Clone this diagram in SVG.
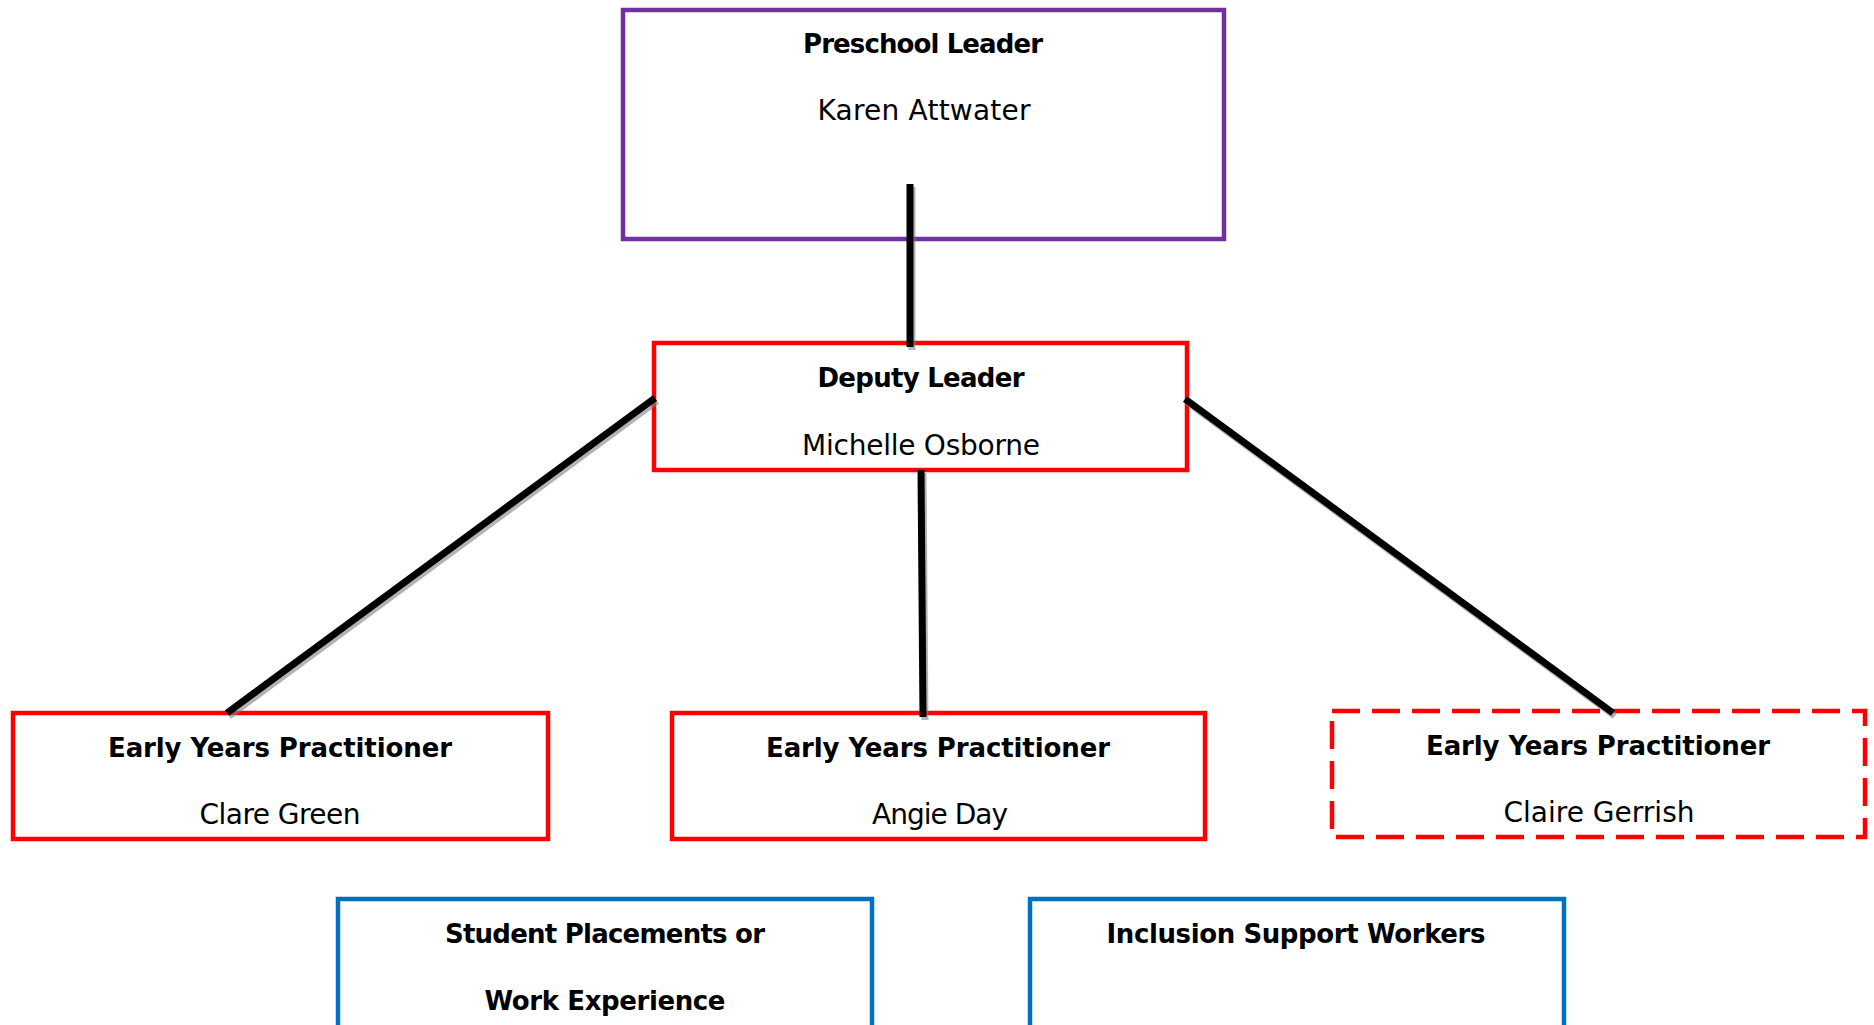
<svg xmlns="http://www.w3.org/2000/svg" width="1874" height="1025" viewBox="0 0 1874 1025">
  <style>
    .box { fill: #FFFFFF; stroke-width: 4.5; }
    .purple { stroke: #7030A0; }
    .red { stroke: #FF0000; }
    .dashed { stroke: #FF0000; stroke-dasharray: 28 12; }
    .blue { stroke: #0070C0; }
    .t { font-family: "DejaVu Sans", "Liberation Sans", sans-serif; fill: #000000; text-anchor: middle; }
    .b { font-weight: bold; font-size: 26px; }
    .r { font-weight: normal; font-size: 28px; }
    .line { stroke: #000000; stroke-width: 7; stroke-linecap: butt; fill: none; }
    .shadow { stroke: #808080; stroke-opacity: 0.6; stroke-width: 7; fill: none; }
  </style>
  <rect x="0" y="0" width="1874" height="1025" fill="#FFFFFF"/>

  <g id="node-preschool-leader">
    <rect class="box purple" x="623" y="10" width="601" height="229"/>
    <text class="t b" x="923" y="53" textLength="240">Preschool Leader</text>
    <text class="t r" x="924" y="120" textLength="213">Karen Attwater</text>
  </g>

  <g id="node-deputy-leader">
    <rect class="box red" x="654" y="343" width="533" height="127"/>
    <text class="t b" x="921" y="387" textLength="207">Deputy Leader</text>
    <text class="t r" x="921" y="455" textLength="238">Michelle Osborne</text>
  </g>

  <g id="node-eyp-clare-green">
    <rect class="box red" x="13" y="713" width="535" height="126"/>
    <text class="t b" x="280" y="757" textLength="344">Early Years Practitioner</text>
    <text class="t r" x="280" y="824" textLength="161">Clare Green</text>
  </g>

  <g id="node-eyp-angie-day">
    <rect class="box red" x="672" y="713" width="533" height="126"/>
    <text class="t b" x="938" y="757" textLength="344">Early Years Practitioner</text>
    <text class="t r" x="940" y="824" textLength="136">Angie Day</text>
  </g>

  <g id="node-eyp-claire-gerrish">
    <rect class="box dashed" x="1332" y="711" width="533" height="126" style="stroke-width:4.5;fill:#FFFFFF"/>
    <text class="t b" x="1598" y="755" textLength="344">Early Years Practitioner</text>
    <text class="t r" x="1599" y="822" textLength="191">Claire Gerrish</text>
  </g>

  <g id="node-student-placements">
    <rect class="box blue" x="338" y="899" width="534" height="140"/>
    <text class="t b" x="605" y="943" textLength="320">Student Placements or</text>
    <text class="t b" x="605" y="1010" textLength="241">Work Experience</text>
  </g>

  <g id="node-inclusion-support">
    <rect class="box blue" x="1030" y="899" width="534" height="140"/>
    <text class="t b" x="1296" y="943" textLength="379">Inclusion Support Workers</text>
  </g>

  <g id="connectors">
    <g transform="translate(2,3)">
      <line class="shadow" x1="910" y1="184" x2="910" y2="347"/>
      <line class="shadow" x1="655" y1="398" x2="227" y2="713"/>
      <line class="shadow" x1="921" y1="470" x2="923" y2="717"/>
      <line class="shadow" x1="1185" y1="399" x2="1613" y2="713"/>
    </g>
    <line class="line" x1="910" y1="184" x2="910" y2="347"/>
    <line class="line" x1="655" y1="398" x2="227" y2="713"/>
    <line class="line" x1="921" y1="470" x2="923" y2="717"/>
    <line class="line" x1="1185" y1="399" x2="1613" y2="713"/>
  </g>
</svg>
